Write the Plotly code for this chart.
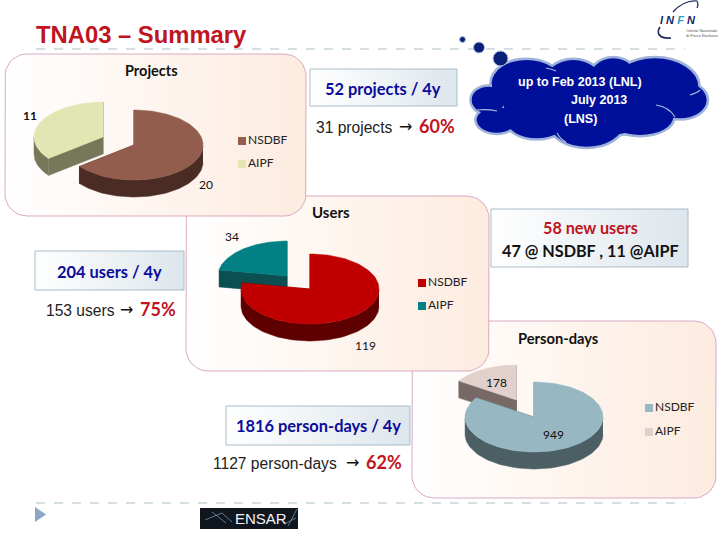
import numpy as np
import plotly.graph_objects as go

# chart values
categories = ["NSDBF", "AIPF"]
projects = [20, 11]
users = [119, 34]
person_days = [949, 178]

chart_titles = ["Projects", "Users", "Person-days"]

SERIF = "Lato"
ARIAL = "Liberation Sans"
NAVY = "#0b0b9a"
RED = "#c0141e"
CLOUD = "#00109a"

fig = go.Figure()


def rounded_rect(x0, y0, x1, y1, r):
    t = np.linspace(0, np.pi / 2, 10)
    xs = np.concatenate([x1 - r + r * np.sin(t), x1 - r + r * np.cos(t),
                         x0 + r - r * np.sin(t), x0 + r - r * np.cos(t), [x1 - r]])
    ys = np.concatenate([y0 + r - r * np.cos(t), y1 - r + r * np.sin(t),
                         y1 - r + r * np.cos(t), y0 + r - r * np.sin(t), [y0]])
    return xs, ys


def add_panel(x0, y0, x1, y1, r, end_colour, line_colour):
    xs, ys = rounded_rect(x0, y0, x1, y1, r)
    fig.add_trace(go.Scatter(
        x=xs, y=ys, mode="lines", fill="toself",
        line=dict(color=line_colour, width=1),
        fillgradient=dict(type="horizontal", colorscale=[[0, "#ffffff"], [1, end_colour]]),
        hoverinfo="skip", showlegend=False,
    ))


def add_poly(xs, ys, colour):
    fig.add_trace(go.Scatter(
        x=xs, y=ys, mode="lines", fill="toself", fillcolor=colour,
        line=dict(color=colour, width=0.5),
        hoverinfo="skip", showlegend=False,
    ))


def add_slice(cx, cy, start, stop, side, top, rx=69, ry=35, depth=17):
    # angles in degrees, clockwise from 12 o'clock
    a = np.radians(np.linspace(start, stop, 120))
    ex = cx + rx * np.sin(a)
    ey = cy - ry * np.cos(a)

    # cut faces first, the top face hides the ones that look away
    for i in (0, -1):
        add_poly([cx, ex[i], ex[i], cx, cx], [cy, ey[i], ey[i] + depth, cy + depth, cy], side)

    # outer rim, only the front half of the ellipse shows
    front = (np.cos(a) < 0)
    if front.any():
        fx, fy = ex[front], ey[front]
        add_poly(np.concatenate([fx, fx[::-1]]), np.concatenate([fy, fy[::-1] + depth]), side)

    add_poly(np.concatenate([[cx], ex, [cx]]), np.concatenate([[cy], ey, [cy]]), top)


def add_text(x, y, text, size, colour="#111111", family=SERIF, bold=False, anchor="center"):
    fig.add_annotation(
        x=x, y=y, text=f"<b>{text}</b>" if bold else text, showarrow=False,
        xanchor=anchor, yanchor="middle", borderpad=0,
        font=dict(family=family, size=size, color=colour),
    )


def add_callout(x, y, label, arrow_x, pct_x, pct):
    add_text(x, y, label, 15.6, colour="#222222", family=ARIAL, anchor="left")
    add_text(arrow_x, y - 1, "→", 16, colour="#111111", family="DejaVu Sans", anchor="left")
    add_text(pct_x, y - 1, pct, 18, colour=RED, bold=True, anchor="left")


def add_legend(x, y0, y1, colours):
    fig.add_trace(go.Scatter(
        x=[x, x], y=[y0, y1], mode="markers+text",
        marker=dict(symbol="square", size=8, color=colours),
        text=categories, textposition="middle right",
        textfont=dict(family=SERIF, size=12, color="#222222"),
        hoverinfo="skip", showlegend=False,
    ))


def sweep(values):
    return 360 * values[0] / sum(values)


# panels, back to front
add_panel(412, 321, 716, 498, 22, "#fdebdf", "#d9a9c2")
add_panel(186, 196, 489, 371, 22, "#fdebdf", "#d9a9c2")
add_panel(5, 54, 306, 216, 22, "#fdebdf", "#d9a9c2")

# Person-days pie
add_slice(516.5, 400, sweep(person_days), 360, "#796966", "#e1d0cb")
add_slice(534, 417, 0, sweep(person_days), "#4c5f65", "#97b8c2")
# Users pie
add_slice(287, 276, sweep(users), 360, "#0b4f52", "#038083")
add_slice(310, 289, 0, sweep(users), "#5f0000", "#c00000")
# Projects pie
add_slice(103, 137, sweep(projects), 360, "#75795a", "#e1e6b2")
add_slice(134, 145, 0, sweep(projects), "#4a2c25", "#925d4c")

# legends
add_legend(242, 141, 164, ["#925d4c", "#e1e6b2"])
add_legend(422, 283, 306, ["#c00000", "#038083"])
add_legend(649, 408, 432, ["#97b8c2", "#e1d0cb"])

# text boxes
for x0, y0, x1, y1 in [(310, 69, 457, 106), (491, 209, 688, 267), (35, 251, 184, 290), (226, 406, 410, 445)]:
    fig.add_trace(go.Scatter(
        x=[x0, x1, x1, x0, x0], y=[y0, y0, y1, y1, y0], mode="lines", fill="toself",
        line=dict(color="#a9bcc9", width=1),
        fillgradient=dict(type="horizontal", colorscale=[[0, "#ffffff"], [1, "#dde6ec"]]),
        hoverinfo="skip", showlegend=False,
    ))

# header and footer rules
for y in (49, 503):
    fig.add_shape(type="line", x0=36, x1=685, y0=y, y1=y,
                  line=dict(color="#a9bdc8", width=1, dash="dash"))

# thought cloud
lobes = [(385, 300, 50, 40), (410, 360, 60, 38), (500, 250, 105, 70), (640, 255, 90, 75),
         (760, 245, 75, 70), (885, 260, 130, 85), (960, 300, 80, 55), (680, 370, 110, 70),
         (530, 360, 90, 55), (840, 350, 100, 55), (680, 310, 250, 100)]
for zx, zy, zrx, zry in lobes:
    fig.add_shape(type="circle", x0=360 + (zx - zrx) / 3, x1=360 + (zx + zrx) / 3,
                  y0=(zy - zry) / 3, y1=(zy + zry) / 3, fillcolor=CLOUD,
                  line=dict(color="#9fb3da", width=5))
for zx, zy, zrx, zry in lobes:
    fig.add_shape(type="circle", x0=360 + (zx - zrx) / 3, x1=360 + (zx + zrx) / 3,
                  y0=(zy - zry) / 3, y1=(zy + zry) / 3, fillcolor=CLOUD, line_width=0)
for path in ["M 477 110 Q 487 109 497 111", "M 656 105 Q 669 107 675 117",
             "M 690 95 Q 697 93 700 90", "M 557 133 Q 560 139 566 142",
             "M 546 68 Q 552 69 556 71"]:
    fig.add_shape(type="path", path=path, line=dict(color="#a9bbdc", width=1.2))
for cx, cy, r in [(462.5, 39.5, 3), (479, 47.5, 5.5), (500.5, 58.5, 7.5)]:
    fig.add_shape(type="circle", x0=cx - r, x1=cx + r, y0=cy - r, y1=cy + r,
                  fillcolor="#0a1f78", line=dict(color="#b5c6df", width=1))

# footer logo and bullet
fig.add_shape(type="path", path="M 35 507 L 46 514.5 L 35 522 Z", fillcolor="#8aa8c6", line_width=0)
fig.add_shape(type="rect", x0=200, x1=298, y0=508, y1=529, fillcolor="#11151d", line_width=0)
for path in ["M 205 520 L 222 513 L 232 522", "M 212 512 L 226 523", "M 288 526 L 297 509", "M 284 524 L 296 518"]:
    fig.add_shape(type="path", path=path, line=dict(color="#6f8fb8", width=0.8))
add_text(261, 518.5, "ENSAR", 15, colour="#f2f4f8", family=ARIAL)

# INFN logo
fig.add_shape(type="path", path="M 673 12 C 679 5, 688 0, 697 1 C 698 3, 698 6, 697 8",
              line=dict(color="#1a2a5a", width=1.2))
fig.add_shape(type="path", path="M 660 27 C 656 33, 659 39, 671 38", line=dict(color="#1a2a5a", width=1.6))
add_text(678, 19.5, '<i>I N <span style="color:#2a9fc4">F</span> N</i>', 11, colour="#16286a", family=ARIAL, bold=True)
add_text(685, 33, "Istituto Nazionale<br>di Fisica Nucleare", 4, colour="#555555", family=ARIAL, anchor="left")

# titles and callouts
add_text(35, 34, "TNA03 – Summary", 23.8, colour=RED, family=ARIAL, bold=True, anchor="left")
add_text(151, 70, chart_titles[0], 14.5, bold=True)
add_text(331, 212, chart_titles[1], 15, bold=True)
add_text(558, 338, chart_titles[2], 14.7, bold=True)

add_text(30, 115, projects[1], 12, bold=True)
add_text(206, 184, projects[0], 12)
add_text(232, 236, users[1], 12)
add_text(365, 345, users[0], 12)
add_text(496, 382, person_days[1], 12)
add_text(553, 434, person_days[0], 12)

add_text(383, 88, "52 projects / 4y", 16.4, colour=NAVY, bold=True)
add_callout(315, 127, "31 projects", 398, 418, "60%")

add_text(109, 271, "204 users / 4y", 16.4, colour=NAVY, bold=True)
add_callout(45, 310, "153 users", 119, 139, "75%")

add_text(318, 425, "1816 person-days / 4y", 16.4, colour=NAVY, bold=True)
add_callout(212, 463, "1127 person-days", 345, 365, "62%")

add_text(590, 227, "58 new users", 16.2, colour=RED, bold=True)
add_text(590, 250, "47 @ NSDBF , 11 @AIPF", 16.2, bold=True)

add_text(580, 82, "up to Feb 2013 (LNL)", 12.5, colour="#ffffff", family=ARIAL, bold=True)
add_text(599, 100, "July 2013", 12.5, colour="#ffffff", family=ARIAL, bold=True)
add_text(580, 119, "(LNS)", 12.5, colour="#ffffff", family=ARIAL, bold=True)

fig.update_layout(
    width=720, height=540,
    margin=dict(l=0, r=0, t=0, b=0),
    paper_bgcolor="white", plot_bgcolor="white",
    showlegend=False,
    xaxis=dict(range=[0, 720], visible=False, fixedrange=True),
    yaxis=dict(range=[540, 0], visible=False, fixedrange=True),
)

# page body has a default margin that would shift the slide
fig.write_html("out.html", post_script="document.body.style.margin='0';", config=dict(displayModeBar=False))
